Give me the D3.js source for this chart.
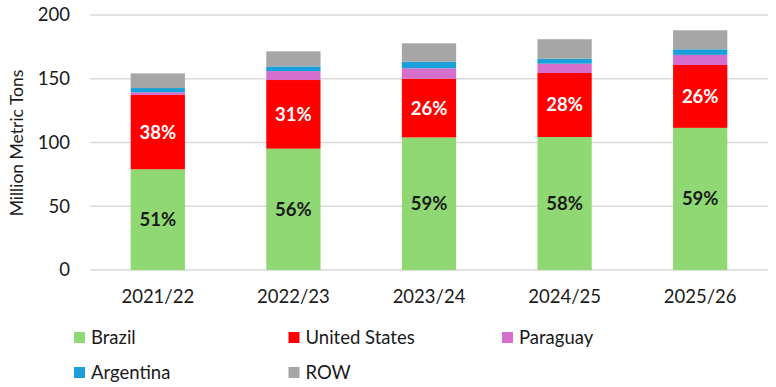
<!DOCTYPE html>
<html>
<head>
<meta charset="utf-8">
<script src="https://cdn.jsdelivr.net/npm/d3@7"></script>
<style>
  body { margin: 0; background: #fff; }
  text { font-family: "Lato", "Open Sans", sans-serif; }
</style>
</head>
<body>
<div id="chart"></div>
<script>
// marketing years
const years = ['2021/22', '2022/23', '2023/24', '2024/25', '2025/26'];
const countries = ['Brazil', 'United States', 'Paraguay', 'Argentina', 'ROW'];
const colors = ['#8fd873', '#ff0000', '#d66fcb', '#1a9fd8', '#a6a6a6'];

// million metric tons
const brazil = [79, 95.2, 104, 104.3, 111.5];
const unitedStates = [58.3, 53.8, 46, 50.2, 49.3];
const paraguay = [2.1, 7, 8.2, 7.3, 7.9];
const argentina = [3.3, 3.7, 5.2, 3.9, 4.4];
const row = [11.5, 11.8, 14.4, 15.3, 14.9];

const brazilShare = ['51%', '56%', '59%', '58%', '59%'];
const usShare = ['38%', '31%', '26%', '28%', '26%'];

const yTicks = [0, 50, 100, 150, 200];

const width = 776, height = 387;
const margin = { top: 15, right: 8, bottom: 117, left: 90 };
const innerW = width - margin.left - margin.right;
const innerH = height - margin.top - margin.bottom;
const font = '"Lato", "Open Sans", sans-serif';

const svg = d3.select('#chart')
  .append('svg')
  .attr('width', width)
  .attr('height', height);

const g = svg.append('g')
  .attr('transform', 'translate(' + margin.left + ',' + margin.top + ')');

const x = d3.scaleBand()
  .domain(years)
  .range([0, innerW])
  .paddingInner(0.6)
  .paddingOuter(0.3);

const y = d3.scaleLinear()
  .domain([0, 200])
  .range([innerH, 0]);

// gridlines
g.append('g')
  .selectAll('line')
  .data(yTicks)
  .enter()
  .append('line')
  .attr('x1', 0)
  .attr('x2', innerW)
  .attr('y1', d => y(d))
  .attr('y2', d => y(d))
  .attr('stroke', '#d9d9d9')
  .attr('stroke-width', 1.3);

// y axis labels
const yAxis = g.append('g')
  .call(d3.axisLeft(y).tickValues(yTicks).tickSize(0).tickPadding(20));
yAxis.select('.domain').remove();
yAxis.selectAll('text')
  .attr('font-size', 18.5)
  .attr('fill', '#1a1a1a')
  .style('font-family', font);

// x axis labels
const xAxis = g.append('g')
  .attr('transform', 'translate(0,' + innerH + ')')
  .call(d3.axisBottom(x).tickSize(0).tickPadding(20));
xAxis.select('.domain').remove();
xAxis.selectAll('text')
  .attr('font-size', 18.5)
  .attr('fill', '#1a1a1a')
  .style('font-family', font);

// y axis title
svg.append('text')
  .attr('transform', 'translate(17,143) rotate(-90)')
  .attr('text-anchor', 'middle')
  .attr('dy', '0.35em')
  .attr('font-size', 17.5)
  .attr('fill', '#1a1a1a')
  .text('Million Metric Tons');

// stacked bars
const series = [brazil, unitedStates, paraguay, argentina, row];
const table = years.map((yr, i) => {
  const o = { year: yr };
  countries.forEach((c, k) => { o[c] = series[k][i]; });
  return o;
});
const stacked = d3.stack().keys(countries)(table);

g.selectAll('.layer')
  .data(stacked)
  .enter()
  .append('g')
  .attr('class', 'layer')
  .attr('fill', (d, i) => colors[i])
  .selectAll('rect')
  .data(d => d)
  .enter()
  .append('rect')
  .attr('x', d => x(d.data.year))
  .attr('y', d => y(d[1]))
  .attr('width', x.bandwidth())
  .attr('height', d => y(d[0]) - y(d[1]));

// share labels
const labelLayers = [
  { layer: stacked[0], labels: brazilShare, color: '#1a1a1a' },
  { layer: stacked[1], labels: usShare, color: '#ffffff' }
];
labelLayers.forEach(l => {
  g.append('g')
    .selectAll('text')
    .data(l.layer)
    .enter()
    .append('text')
    .attr('x', d => x(d.data.year) + x.bandwidth() / 2)
    .attr('y', d => y((d[0] + d[1]) / 2))
    .attr('dy', '0.35em')
    .attr('text-anchor', 'middle')
    .attr('font-size', 18.5)
    .attr('font-weight', 'bold')
    .attr('fill', l.color)
    .text((d, i) => l.labels[i]);
});

// legend
const legendPos = [[74, 337.5], [288.5, 337.5], [502, 337.5], [74, 372.5], [288.5, 372.5]];
const legend = svg.append('g')
  .selectAll('g')
  .data(countries)
  .enter()
  .append('g')
  .attr('transform', (d, i) => 'translate(' + legendPos[i][0] + ',' + legendPos[i][1] + ')');
legend.append('rect')
  .attr('x', 0)
  .attr('y', -5.5)
  .attr('width', 11)
  .attr('height', 11)
  .attr('fill', (d, i) => colors[i]);
legend.append('text')
  .attr('x', 17)
  .attr('dy', '0.35em')
  .attr('font-size', 18.5)
  .attr('fill', '#1a1a1a')
  .text(d => d);
</script>
</body>
</html>
